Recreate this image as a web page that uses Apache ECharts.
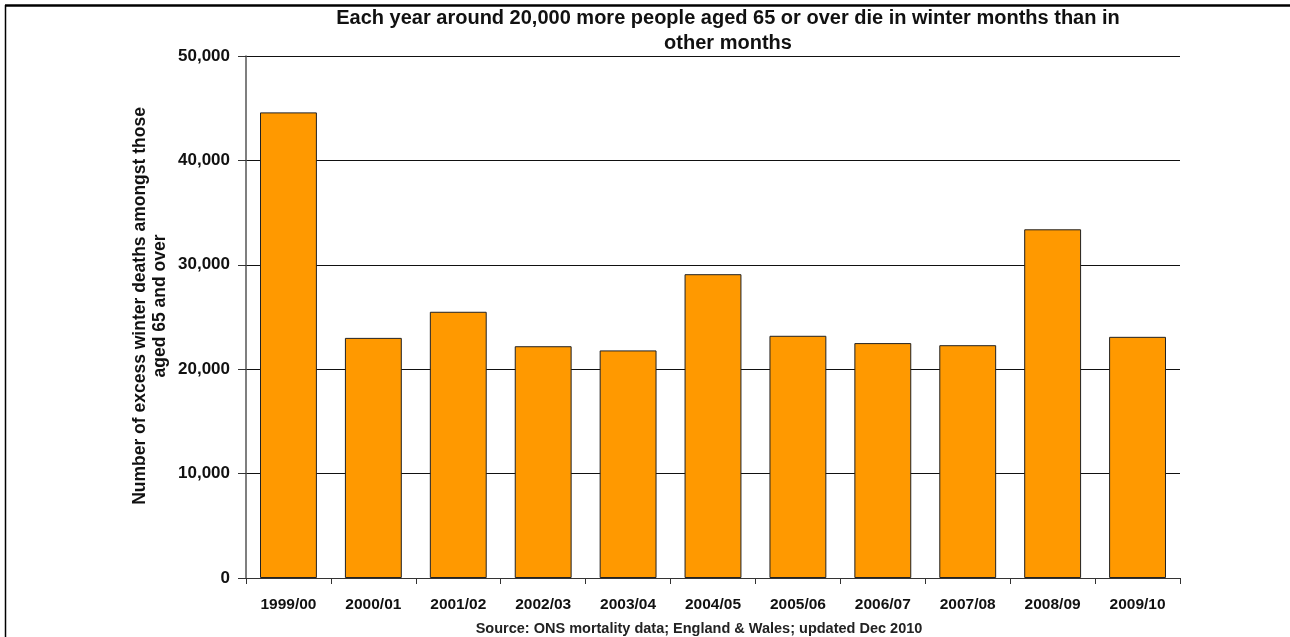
<!DOCTYPE html>
<html>
<head>
<meta charset="utf-8">
<script src="https://cdn.jsdelivr.net/npm/echarts@6/dist/echarts.min.js"></script>
<style>
  html, body { margin: 0; padding: 0; background: #fff; }
  #chart { width: 1290px; height: 637px; }
</style>
</head>
<body>
<div id="chart"></div>
<script>
const seasons = ['1999/00', '2000/01', '2001/02', '2002/03', '2003/04', '2004/05',
  '2005/06', '2006/07', '2007/08', '2008/09', '2009/10'];
const excessDeaths = [44600, 23000, 25500, 22200, 21800, 29100, 23200, 22500, 22300, 33400, 23100];
const yTicks = [0, 10000, 20000, 30000, 40000, 50000];

const font = '"Liberation Sans", Arial, sans-serif';
const chart = echarts.init(document.getElementById('chart'));

chart.setOption({
  animation: false,
  title: {
    text: 'Each year around 20,000 more people aged 65 or over die in winter months than in\nother months',
    left: 723,
    top: 1,
    textAlign: 'center',
    textStyle: { fontFamily: font, fontSize: 20, fontWeight: 'bold', color: '#111', lineHeight: 25 }
  },
  grid: { left: 246, right: 110, top: 56, bottom: 59 },
  xAxis: {
    type: 'category',
    data: seasons,
    axisLine: { lineStyle: { color: '#333', width: 1 } },
    axisTick: { show: true, length: 6, lineStyle: { color: '#333' } },
    axisLabel: { fontFamily: font, fontSize: 15.5, fontWeight: 'bold', color: '#111', margin: 19 }
  },
  yAxis: {
    type: 'value',
    min: yTicks[0],
    max: yTicks[yTicks.length - 1],
    interval: 10000,
    axisLine: { show: true, lineStyle: { color: '#555', width: 1.5 } },
    axisTick: { show: true, length: 8, lineStyle: { color: '#333' } },
    splitLine: { lineStyle: { color: '#111', width: 1 } },
    axisLabel: {
      fontFamily: font, fontSize: 17, fontWeight: 'bold', color: '#111', margin: 16,
      formatter: v => v.toLocaleString('en-GB')
    }
  },
  series: [{
    type: 'bar',
    data: excessDeaths,
    barCategoryGap: '33%',
    itemStyle: { color: '#FF9900', borderColor: '#222', borderWidth: 1 }
  }],
  graphic: [
    { type: 'line', shape: { x1: 5, y1: 5.5, x2: 1290, y2: 5.5 }, style: { stroke: '#000', lineWidth: 2.5 } },
    { type: 'line', shape: { x1: 5.5, y1: 5, x2: 5.5, y2: 637 }, style: { stroke: '#000', lineWidth: 1.5 } },
    {
      type: 'text', x: 150, y: 306, rotation: Math.PI / 2,
      style: { text: 'Number of excess winter deaths amongst those\naged 65 and over',
        font: 'bold 17.5px ' + font, fill: '#111', align: 'center', verticalAlign: 'middle', lineHeight: 20 }
    },
    {
      type: 'text', x: 699, y: 629,
      style: { text: 'Source: ONS mortality data; England & Wales; updated Dec 2010',
        font: 'bold 14.5px ' + font, fill: '#222', align: 'center', verticalAlign: 'middle' }
    }
  ]
});
</script>
</body>
</html>
